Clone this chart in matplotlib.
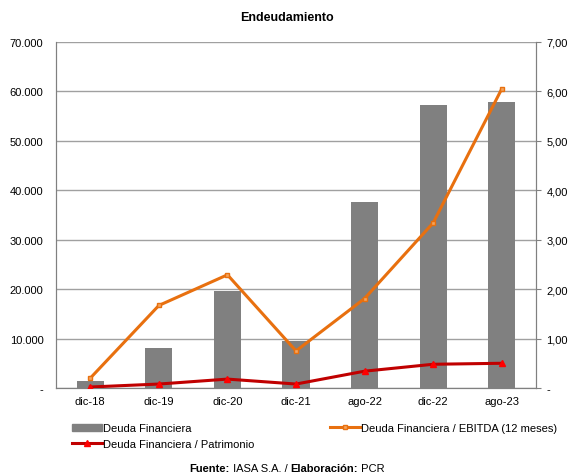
import numpy as np
import matplotlib.pyplot as plt
from matplotlib.lines import Line2D
from matplotlib.ticker import FuncFormatter

plt.rcParams['font.family'] = ['Liberation Sans', 'DejaVu Sans']

# datos
periodos = ['dic-18', 'dic-19', 'dic-20', 'dic-21', 'ago-22', 'dic-22', 'ago-23']
deuda_fin = [1480, 8030, 19700, 9500, 37700, 57300, 57800]
deuda_ebitda = [0.20, 1.67, 2.29, 0.75, 1.81, 3.34, 6.05]
deuda_patrimonio = [0.02, 0.08, 0.18, 0.08, 0.34, 0.48, 0.50]

gris = '#808080'
naranja = '#E8700F'
rojo = '#C00000'

fig = plt.figure(figsize=(5.74, 4.77), dpi=100)
ax = fig.add_axes([0.0976, 0.1845, 0.8362, 0.7254])
ax2 = ax.twinx()

x = np.arange(len(periodos))
ax.bar(x, deuda_fin, width=0.395, color=gris, zorder=2)
ax.set_ylim(0, 70000)
ax.set_xlim(-0.5, len(periodos) - 0.5)
ax.set_yticks(np.arange(0, 70001, 10000))
ax.yaxis.set_major_formatter(FuncFormatter(
    lambda v, p: '-' if v == 0 else f'{int(v):,}'.replace(',', '.')))
ax.set_xticks(x)
ax.set_xticklabels(periodos)
ax.grid(axis='y', color='#a0a0a0', linewidth=1.0, zorder=0)
ax.set_axisbelow(True)
ax.tick_params(axis='y', length=0, labelsize=8, pad=9)
ax.tick_params(axis='x', length=0, labelsize=8, pad=6)

ax2.set_ylim(0, 7)
ax2.set_yticks(np.arange(0, 7.01, 1))
ax2.yaxis.set_major_formatter(FuncFormatter(
    lambda v, p: '-' if v == 0 else f'{v:.2f}'.replace('.', ',')))
ax2.tick_params(axis='y', length=3.6, color=gris, labelsize=8, pad=4)

for a in (ax, ax2):
    a.spines['top'].set_visible(False)
    a.spines['left'].set_color(gris)
    a.spines['right'].set_color(gris)
    a.spines['bottom'].set_color(gris)

ax2.plot(x, deuda_ebitda, color=naranja, linewidth=2.2, marker='s',
         markersize=3.5, markerfacecolor='#F5A55E', markeredgecolor=naranja,
         zorder=3)
ax2.plot(x, deuda_patrimonio, color=rojo, linewidth=2.2, marker='^',
         markersize=4.5, markerfacecolor='red', markeredgecolor='red', zorder=4)

fig.text(0.5, 0.962, 'Endeudamiento', ha='center', va='center',
         fontsize=9, fontweight='bold')

h1 = plt.Rectangle((0, 0), 1, 1, color=gris)
h2 = Line2D([], [], color=naranja, linewidth=2.2, marker='s', markersize=3,
            markerfacecolor='#F5A55E', markeredgecolor=naranja)
h3 = Line2D([], [], color=rojo, linewidth=2.2, marker='^', markersize=4,
            markerfacecolor='red', markeredgecolor='red')
fig.legend([h1, h3], ['Deuda Financiera', 'Deuda Financiera / Patrimonio'],
           loc='upper left', bbox_to_anchor=(0.125, 0.111), frameon=False,
           fontsize=8, handlelength=2.7, handleheight=0.6, handletextpad=0.1,
           labelspacing=0.5, borderaxespad=0, borderpad=0)
fig.legend([h2], ['Deuda Financiera / EBITDA (12 meses)'],
           loc='upper left', bbox_to_anchor=(0.575, 0.111), frameon=False,
           fontsize=8, handlelength=2.7, handletextpad=0.1,
           borderaxespad=0, borderpad=0)

# pie de grafico con partes en negrita
partes = [('Fuente:', 'bold'), (' IASA S.A. / ', 'normal'),
          ('Elaboración:', 'bold'), (' PCR', 'normal')]
renderer = fig.canvas.get_renderer()
textos = [fig.text(0, 0.017, t, fontsize=8, fontweight=w, va='center')
          for t, w in partes]
anchos = [t.get_window_extent(renderer).width for t in textos]
xpos = (574 - sum(anchos)) / 2
for t, w in zip(textos, anchos):
    t.set_x(xpos / 574)
    xpos += w

fig.savefig('out.png', dpi=100)
